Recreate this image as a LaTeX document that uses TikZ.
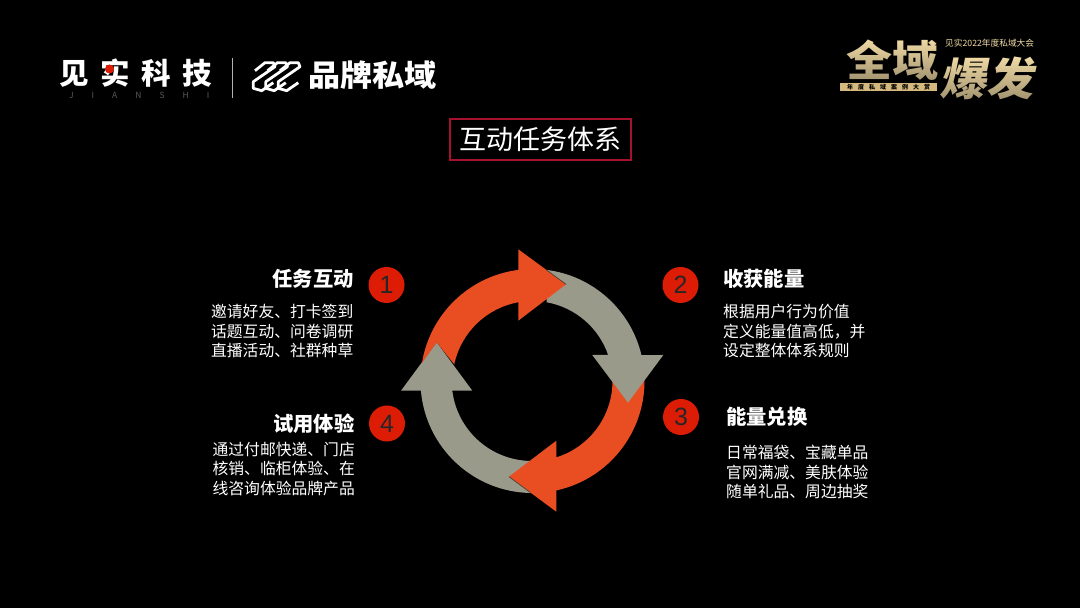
\documentclass[tikz,border=0pt]{standalone}
\usepackage{fontspec}
\usetikzlibrary{fadings}
\setmainfont{Noto Sans CJK SC}
\newfontfamily\digitfont{Liberation Sans}
\definecolor{ringorange}{HTML}{E94E22}
\definecolor{ringgray}{HTML}{999A8A}
\definecolor{edgedark}{HTML}{3A3A32}
\definecolor{numred}{HTML}{DD1C05}
\definecolor{framered}{HTML}{A6112E}
\definecolor{gold}{HTML}{F2DCA6}
\definecolor{goldbar}{HTML}{D4B87E}
\tikzfading[name=goldfade,top color=transparent!100,bottom color=transparent!65]
\tikzset{
  numdot/.style={circle,fill=numred,minimum size=36pt,inner sep=0pt,text=black!85,font=\digitfont\fontsize{25}{25}\selectfont},
  headtext/.style={text=white,inner sep=0pt,font=\fontsize{20.3}{22}\bfseries\selectfont},
  bodytext/.style={text=white,inner sep=0pt,font=\fontsize{15.8}{19.2}\selectfont},
  logotext/.style={text=white,inner sep=0pt},
  goldtext/.style={text=gold,inner sep=0pt},
  markline/.style={draw=white,line width=2.8pt,line join=round}
}
\begin{document}
\begin{tikzpicture}[x=1pt,y=1pt]
      \useasboundingbox (0,0) rectangle (1080,608);
      \fill[black] (0,0) rectangle (1080,608);
      \coordinate (c) at (532.5,227);
      \fill[ringgray] ([shift={(-91:112)}]c) arc[start angle=-91,end angle=-175,radius=112] -- (420,217.3) -- (401,217.3) -- (436.7,265.7) -- (472.3,217.3) -- (452.3,217.3) arc[start angle=187,end angle=269,radius=80] -- cycle;
      \fill[ringorange] ([shift={(10:112)}]c) arc[start angle=10,end angle=-77.7,radius=112] -- (556.3,96.3) -- (509,131.3) -- (556.3,167.3) -- ([shift={(-72.7:80)}]c) arc[start angle=-72.7,end angle=10,radius=80] -- cycle;
      \draw[edgedark,line width=0.6pt] (509,131.3) -- (530,115.7);
      \fill[ringgray] ([shift={(82.7:112)}]c) arc[start angle=82.7,end angle=13.4,radius=112] -- (663.3,253) -- (628,205.3) -- (592.3,253) -- ([shift={(19:80)}]c) arc[start angle=19,end angle=79.8,radius=80] -- cycle;
      \fill[ringorange] ([shift={(170.8:112)}]c) arc[start angle=170.8,end angle=97.3,radius=112] -- (518.3,358.7) -- (566,323.7) -- (518.3,287.3) -- ([shift={(100.2:80)}]c) arc[start angle=100.2,end angle=168,radius=80] -- (436.7,265.7) -- cycle;
      \draw[edgedark,line width=0.6pt] (566,323.7) -- (546,338.4);

      \node[draw=framered,line width=1.2pt,text=white,minimum width=181pt,minimum height=41pt,inner sep=0pt,font=\fontsize{27}{30}\selectfont] (title) at (540.5,468.5) {互动任务体系};

      \node[numdot] (num1) at (386.5,323) {1};
      \node[numdot] (num2) at (680.5,323) {2};
      \node[numdot] (num3) at (681,191) {3};
      \node[numdot] (num4) at (387,184.5) {4};

      \node[headtext,anchor=east] (head1) at (354,329) {任务互动};
      \node[headtext,anchor=west] (head2) at (723,329) {收获能量};
      \node[headtext,anchor=west] (head3) at (726,191) {能量兑换};
      \node[headtext,anchor=east] (head4) at (354.5,184) {试用体验};

      \node[bodytext,anchor=east,align=left] (body1) at (353.5,277) {邀请好友、打卡签到\\话题互动、问卷调研\\直播活动、社群种草};
      \node[bodytext,anchor=west,align=left] (body2) at (723,277) {根据用户行为价值\\定义能量值高低\symbol{"FF0C}并\\设定整体体系规则};
      \node[bodytext,anchor=west,align=left] (body3) at (726,136) {日常福袋、宝藏单品\\官网满减、美肤体验\\随单礼品、周边抽奖};
      \node[bodytext,anchor=east,align=left] (body4) at (355,139) {通过付邮快递、门店\\核销、临柜体验、在\\线咨询体验品牌产品};

      \node[logotext,anchor=west,font=\fontsize{29.5}{32}\bfseries\selectfont] (jianshi) at (59,535) {见\hspace{11.5pt}实\hspace{11.5pt}科\hspace{11.5pt}技};
      \fill[numred] (109.5,539) circle (4.5);
      \node[anchor=west,inner sep=0pt,text=white!35!black,font=\fontsize{8.5}{8.5}\selectfont] (pinyin) at (69,513) {J\hspace{18pt}I\hspace{18pt}A\hspace{18pt}N\hspace{18pt}S\hspace{18pt}H\hspace{18pt}I};
      \draw[white!70!black,line width=0.8pt] (232.5,550) -- (232.5,510);
      \foreach \dx in {0,12.5,25} {
        \draw[markline,xshift=\dx] (255,537.3) -- (265,545.3) -- (273.3,545.3) -- (275,541.3) -- (253.3,526.3) -- (253.3,519.7) -- (261.7,517.3) -- (273.3,525.3);
      }
      \node[logotext,anchor=west,xscale=1.07,font=\fontsize{30}{32}\bfseries\selectfont] (pinpai) at (308,533) {品牌私域};

      \node[goldtext,anchor=west,font=\fontsize{8.7}{10}\selectfont] (meeting) at (945,564.5) {见实2022年度私域大会};
      \node[goldtext,anchor=center,yscale=0.92,font=\fontsize{46}{46}\bfseries\selectfont] (quanyu) at (892,548) {全域};
      \node[goldtext,anchor=center,xslant=0.2,yscale=0.95,font=\fontsize{47}{47}\bfseries\selectfont] (baofa) at (990,530) {爆发};
      \fill[black,path fading=goldfade] (840,524) rectangle (940,570);
      \fill[black,path fading=goldfade] (940,505) rectangle (1045,552);
      \fill[goldbar] (840,517) rectangle (937,525);
      \node[anchor=center,inner sep=0pt,text=black,font=\fontsize{6}{6}\bfseries\selectfont] (award) at (888.5,521) {年\hspace{5pt}度\hspace{5pt}私\hspace{5pt}域\hspace{5pt}案\hspace{5pt}例\hspace{5pt}大\hspace{5pt}赏};
\end{tikzpicture}
\end{document}
